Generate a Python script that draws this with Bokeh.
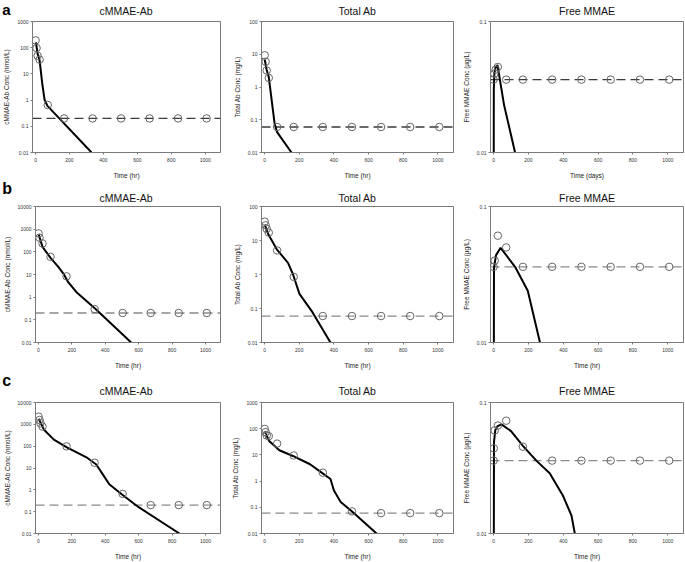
from bokeh.plotting import figure
from bokeh.models import Span, FixedTicker, CustomJSTickFormatter, Range1d
from bokeh.core.properties import value
from bokeh.layouts import row, column
from bokeh.embed import file_html
from bokeh.resources import INLINE

# ---------------- data ----------------
titles = ["cMMAE-Ab", "Total Ab", "Free MMAE"]
ylabels = ["cMMAE-Ab Conc (nmol/L)", "Total Ab Conc (mg/L)", "Free MMAE Conc (\u00b5g/L)"]
row_letters = ["a", "b", "c"]
lloq = [0.2, 0.06, 0.036]
x_ticks = [0, 200, 400, 600, 800, 1000]

# row a
a_cab_t = [0.5, 6, 12, 24, 72]
a_cab_c = [190, 97, 49, 35, 0.65]
a_cab_fit_t = [2, 12, 24, 39, 53, 70, 330]
a_cab_fit_c = [160, 60, 32, 4.5, 1.05, 0.6, 0.01]
a_cab_blq_t = [168, 336, 504, 672, 840, 1008]

a_tab_t = [0.5, 6, 12, 24]
a_tab_c = [9.3, 5.9, 3.2, 1.9]
a_tab_fit_t = [0.5, 12, 24, 58, 72, 155]
a_tab_fit_c = [6.9, 3.3, 2.0, 0.074, 0.042, 0.01]
a_tab_blq_t = [72, 168, 336, 504, 672, 840, 1008]

a_mm_t = [4, 12, 24]
a_mm_c = [0.040, 0.043, 0.045]
a_mm_fit_t = [0, 1, 4, 10, 22, 60, 123]
a_mm_fit_c = [0.001, 0.03, 0.040, 0.044, 0.0466, 0.023, 0.01]
a_mm_blq_t = [0, 72, 168, 336, 504, 672, 840, 1008]

# row b
b_cab_t = [0.5, 6, 24, 72, 168, 336]
b_cab_c = [650, 420, 235, 60, 8.3, 0.30]
b_cab_fit_t = [0.5, 24, 72, 120, 149, 178, 226, 342, 555]
b_cab_fit_c = [600, 166, 54, 21, 11, 4.6, 1.7, 0.3, 0.01]
b_cab_blq_t = [504, 672, 840, 1008]

b_tab_t = [0.5, 6, 12, 24, 72, 168]
b_tab_c = [36, 28, 22, 17, 5.1, 0.85]
b_tab_fit_t = [0.5, 22, 70, 135, 164, 201, 276, 380]
b_tab_fit_c = [29.5, 15, 5.5, 2.2, 1.0, 0.27, 0.078, 0.01]
b_tab_blq_t = [336, 504, 672, 840, 1008]

b_mm_t = [6, 24, 72]
b_mm_c = [0.040, 0.061, 0.050]
b_mm_fit_t = [0, 2, 13, 40, 123, 196, 266]
b_mm_fit_c = [0.001, 0.035, 0.0437, 0.0497, 0.036, 0.024, 0.01]
b_mm_blq_t = [0, 168, 336, 504, 672, 840, 1008]

# row c
c_cab_t = [0.5, 6, 12, 24, 168, 336, 504]
c_cab_c = [2240, 1580, 1120, 790, 98, 17.4, 0.65]
c_cab_fit_t = [1, 33, 92, 170, 287, 346, 385, 424, 502, 600, 844]
c_cab_fit_c = [1800, 560, 200, 89, 31, 14.5, 5.1, 1.8, 0.6, 0.16, 0.01]
c_cab_blq_t = [672, 840, 1008]

c_tab_t = [0.5, 6, 12, 24, 72, 168, 336, 504]
c_tab_c = [98, 74, 55, 52, 27, 9.5, 2.1, 0.07]
c_tab_fit_t = [0.5, 26, 85, 163, 262, 341, 380, 400, 439, 508, 646]
c_tab_fit_c = [79, 34, 15, 9.1, 4.4, 1.85, 1.2, 0.44, 0.16, 0.066, 0.01]
c_tab_blq_t = [672, 840, 1008]

c_mm_t = [1, 6, 24, 72, 168]
c_mm_c = [0.0447, 0.0612, 0.0667, 0.0726, 0.046]
c_mm_fit_t = [0, 2, 10, 23, 45, 100, 168, 245, 322, 399, 447, 466]
c_mm_fit_c = [0.001, 0.05, 0.062, 0.066, 0.068, 0.0605, 0.0467, 0.036, 0.0288, 0.0193, 0.0137, 0.01]
c_mm_blq_t = [0, 336, 504, 672, 840, 1008]

y_tops = [[1000, 100, 0.1], [10000, 100, 0.1], [10000, 1000, 0.1]]
xlabels = [["Time (hr)", "Time (hr)", "Time (days)"], ["Time (hr)"] * 3, ["Time (hr)"] * 3]

panels = [
    [(a_cab_t, a_cab_c, a_cab_fit_t, a_cab_fit_c, a_cab_blq_t),
     (a_tab_t, a_tab_c, a_tab_fit_t, a_tab_fit_c, a_tab_blq_t),
     (a_mm_t, a_mm_c, a_mm_fit_t, a_mm_fit_c, a_mm_blq_t)],
    [(b_cab_t, b_cab_c, b_cab_fit_t, b_cab_fit_c, b_cab_blq_t),
     (b_tab_t, b_tab_c, b_tab_fit_t, b_tab_fit_c, b_tab_blq_t),
     (b_mm_t, b_mm_c, b_mm_fit_t, b_mm_fit_c, b_mm_blq_t)],
    [(c_cab_t, c_cab_c, c_cab_fit_t, c_cab_fit_c, c_cab_blq_t),
     (c_tab_t, c_tab_c, c_tab_fit_t, c_tab_fit_c, c_tab_blq_t),
     (c_mm_t, c_mm_c, c_mm_fit_t, c_mm_fit_c, c_mm_blq_t)],
]

# ---------------- layout / style ----------------
FONT = "Liberation Sans"
col_w = [228, 230, 227]
TOTAL_W = sum(col_w)
col_bl = [31, 33, 32]
col_br = [8, 5, 2]
head_h = [18, 21, 25]          # header strip (letter + titles) per row
head_letter_y = [8.8, 6.8, 7.2]
head_letter_size = ["15px", "16px", "16px"]
head_title_y = [10.0, 16.0, 17.0]
row_h = [163, 171, 164]        # panel strip per row
row_bt = [3, 4, 4]
row_bb = [27, 31, 27]
dash_colors = ["#3a3a3a", "#8a8a8a", "#8a8a8a"]

fmt = CustomJSTickFormatter(code="return String(parseFloat(tick.toPrecision(6)));")

# frame centres (for the panel titles in the header strip)
centres = []
x0 = 0
for c in range(3):
    fl = x0 + col_bl[c]
    fr = x0 + col_w[c] - col_br[c]
    centres.append((fl + fr) / 2.0)
    x0 += col_w[c]

blocks = []
for r in range(3):
    # header strip
    h = figure(width=TOTAL_W, height=head_h[r], x_range=Range1d(0, TOTAL_W),
               y_range=Range1d(head_h[r], 0), output_backend="svg", toolbar_location=None,
               x_axis_location=None, y_axis_location=None, title=None,
               min_border=0, min_border_left=0, min_border_right=0,
               min_border_top=0, min_border_bottom=0)
    h.outline_line_color = None
    h.xgrid.visible = False
    h.ygrid.visible = False
    h.text(x=[1.7], y=[head_letter_y[r]], text=[row_letters[r]],
           text_font=value(FONT), text_font_size=head_letter_size[r], text_font_style="bold",
           text_align="left", text_baseline="alphabetic", text_color="black")
    h.text(x=centres, y=[head_title_y[r]] * 3, text=titles,
           text_font=value(FONT), text_font_size="10.5px",
           text_align="center", text_baseline="alphabetic", text_color="#111111")

    figs = []
    for c in range(3):
        t, v, ft, fv, bt = panels[r][c]
        ytop = y_tops[r][c]
        p = figure(width=col_w[c], height=row_h[r], y_axis_type="log",
                   x_range=Range1d(-18, 1090), y_range=Range1d(0.01, ytop),
                   output_backend="svg", toolbar_location=None, title=None,
                   min_border_left=col_bl[c], min_border_right=col_br[c],
                   min_border_top=row_bt[r], min_border_bottom=row_bb[r])
        p.xgrid.visible = False
        p.ygrid.visible = False
        p.outline_line_color = "#7a7a7a"
        p.outline_line_width = 1

        decs = []
        d = 0.01
        while d <= ytop * 1.0001:
            decs.append(d)
            d = float("%g" % (d * 10))
        p.yaxis.ticker = FixedTicker(ticks=decs)
        p.yaxis.formatter = fmt
        p.xaxis.ticker = FixedTicker(ticks=x_ticks)
        for ax in (p.xaxis[0], p.yaxis[0]):
            ax.axis_line_color = "#7a7a7a"
            ax.major_tick_line_color = "#7a7a7a"
            ax.major_tick_out = 2
            ax.major_tick_in = 0
            ax.minor_tick_line_color = None
            ax.major_label_text_font = FONT
            ax.major_label_text_font_size = "5px"
            ax.major_label_text_color = "#333333"
            ax.axis_label_text_font = FONT
            ax.axis_label_text_font_size = "6.5px"
            ax.axis_label_text_font_style = "normal"
            ax.axis_label_text_color = "#222222"
        p.xaxis.axis_label = xlabels[r][c]
        p.yaxis.axis_label = ylabels[c]
        p.xaxis.major_label_standoff = 3
        p.xaxis.axis_label_standoff = 7
        p.yaxis.major_label_standoff = 2
        p.yaxis.axis_label_standoff = 4

        span = Span(location=lloq[c], dimension="width", line_color=dash_colors[r],
                    line_width=1.3, line_dash="9 5", level="underlay")
        p.add_layout(span)
        p.line(ft, fv, line_color="black", line_width=2)
        p.scatter(t, v, marker="circle", size=7.5, fill_color=None,
                  line_color="#666666", line_width=1)
        p.scatter(bt, [lloq[c]] * len(bt), marker="circle", size=7.5, fill_color=None,
                  line_color="#666666", line_width=1)
        figs.append(p)
    blocks.append(h)
    blocks.append(row(*figs, spacing=0))

layout = column(*blocks, spacing=0)
open("out.html", "w").write(file_html(layout, INLINE))
